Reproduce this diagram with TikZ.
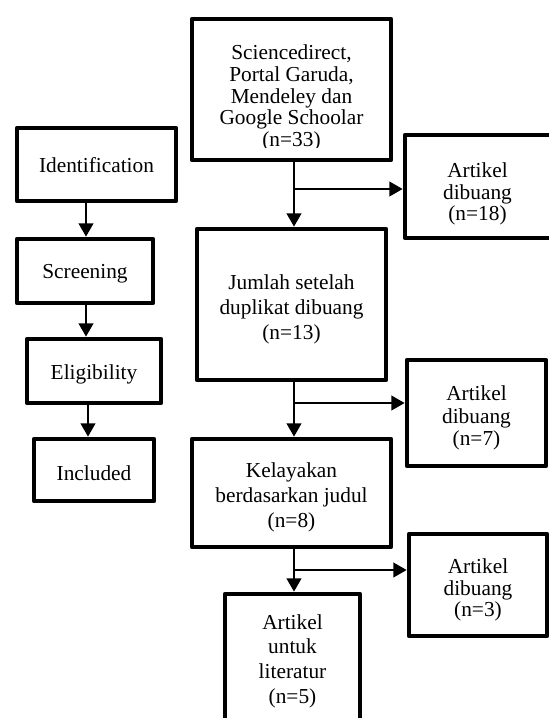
\documentclass[tikz,border=0pt]{standalone}
\usepackage{fontspec}
\setmainfont{Liberation Serif}
\usetikzlibrary{arrows.meta}
\begin{document}
\begin{tikzpicture}[x=0.75pt,y=-0.75pt,
  box/.style={draw, line width=3.5pt, fill=white, inner sep=0pt, line join=round},
  fs/.style={font=\fontsize{16pt}{#1}\selectfont},
  txt/.style={align=center, inner sep=0pt},
  arr/.style={line width=1.5pt, -{Triangle[width=11pt,length=10pt]}},
  ln/.style={line width=1.5pt}]
\useasboundingbox (0,0) rectangle (549,718);
% left column
\node[box, minimum width=119.25pt, minimum height=54.75pt] (id) at (96.5,164.5) {};
\node[box, minimum width=102pt, minimum height=48pt] (scr) at (85,271) {};
\node[box, minimum width=100.5pt, minimum height=48pt] (elig) at (94,371) {};
\node[box, minimum width=90pt, minimum height=46.5pt] (incl) at (94,470) {};
\node[txt, fs=18pt] (tid) at (96.5,165) {Identification};
\node[txt, fs=18pt] (tscr) at (85,274) {Screening};
\node[txt, fs=18pt] (telig) at (94,374) {Eligibility};
\node[txt, fs=18pt] (tincl) at (94,473) {Included};
\coordinate (l1) at (86,0);
\coordinate (l3) at (88,0);
\draw[arr] (id.south -| l1) -- (scr.north -| l1);
\draw[arr] (scr.south -| l1) -- (elig.north -| l1);
\draw[arr] (elig.south -| l3) -- (incl.north -| l3);
% main column
\node[box, minimum width=149.25pt, minimum height=105.75pt] (b1) at (291.5,89.5) {};
\begin{scope}
\clip (197,24) rectangle (386,147);
\node[txt, fs=16.3pt] (t1) at (291.5,98) {Sciencedirect,\\Portal Garuda,\\Mendeley dan\\Google Schoolar\\(n=33)};
\end{scope}
\node[box, minimum width=141.75pt, minimum height=113.25pt] (b2) at (291.5,304.5) {};
\node[txt, fs=18.75pt] (t2) at (291.5,309) {Jumlah setelah\\duplikat dibuang\\(n=13)};
\node[box, minimum width=149.25pt, minimum height=81pt] (b3) at (291.5,493) {};
\node[txt, fs=18.75pt] (t3) at (291.5,497) {Kelayakan\\berdasarkan judul\\(n=8)};
\node[box, minimum width=101.25pt, minimum height=98.25pt] (b4) at (292.5,659.5) {};
\node[txt, fs=18.5pt] (t4) at (292.5,661) {Artikel\\untuk\\literatur\\(n=5)};
% side boxes
\node[box, minimum width=110.25pt, minimum height=77.25pt] (a1) at (478.5,186.5) {};
\node[txt, fs=16.3pt] (ta1) at (477.5,194) {Artikel\\dibuang\\(n=18)};
\node[box, minimum width=104.25pt, minimum height=79.5pt] (a2) at (476.5,413) {};
\node[txt, fs=16.8pt] (ta2) at (476.5,418) {Artikel\\dibuang\\(n=7)};
\node[box, minimum width=103.5pt, minimum height=76.5pt] (a3) at (478,585) {};
\node[txt, fs=16pt] (ta3) at (478,590) {Artikel\\dibuang\\(n=3)};
% connectors
\coordinate (j1) at (294,189);
\coordinate (j2) at (294,403);
\coordinate (j3) at (294,570);
\draw[arr] (b1.south -| j1) -- (b2.north -| j1);
\draw[arr] (b2.south -| j1) -- (b3.north -| j1);
\draw[arr] (b3.south -| j1) -- (b4.north -| j1);
\draw[arr] (j1) -- (j1 -| a1.west);
\draw[arr] (j2) -- (j2 -| a2.west);
\draw[arr] (j3) -- (j3 -| a3.west);
\end{tikzpicture}
\end{document}
